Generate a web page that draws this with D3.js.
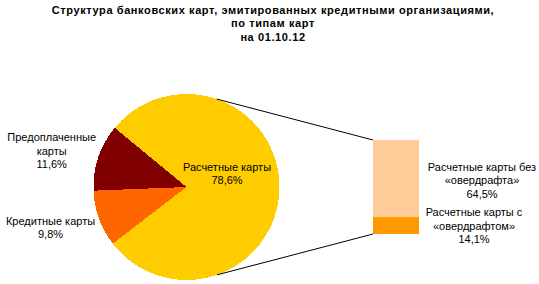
<!DOCTYPE html>
<html>
<head>
<meta charset="utf-8">
<script src="https://cdn.jsdelivr.net/npm/d3@7"></script>
<style>
  html, body { margin: 0; padding: 0; background: #fff; }
  svg { display: block; }
  text { font-family: "Liberation Sans", Arial, sans-serif; fill: #000; }
</style>
</head>
<body>
<svg id="chart" width="539" height="284"></svg>
<script>
// ---- Data ----
const titleLines = ["Структура банковских карт, эмитированных кредитными организациями,", "по типам карт", "на 01.10.12"];
const pieCategories = ["Расчетные карты", "Кредитные карты", "Предоплаченные карты"];
const pieValues = [78.6, 9.8, 11.6];
const pieLabels = [["Расчетные карты", "78,6%"], ["Кредитные карты", "9,8%"], ["Предоплаченные", "карты", "11,6%"]];
const pieColors = ["#FFCC00", "#FF6600", "#800000"];
const barCategories = ["Расчетные карты с «овердрафтом»", "Расчетные карты без «овердрафта»"];
const barValues = [14.1, 64.5];
const barLabels = [["Расчетные карты с", "«овердрафтом»", "14,1%"], ["Расчетные карты без", "«овердрафта»", "64,5%"]];
const barColors = ["#FF9900", "#FFCC99"];

// ---- Layout ----
const svg = d3.select("#chart");
const cx = 186.5, cy = 187, R = 93;
const deg = Math.PI / 180;
const start = 309.5 * deg;
const lineH = 13.5;

// Title
const title = svg.append("text")
  .attr("x", 273).attr("y", 13.5)
  .attr("text-anchor", "middle")
  .style("font-size", "11px").style("font-weight", "bold")
  .style("letter-spacing", "0.6px");
titleLines.forEach((t, i) => {
  title.append("tspan").attr("x", 273).attr("dy", i === 0 ? 0 : lineH).text(t);
});

// Pie
const pie = d3.pie().sort(null).value(d => d).startAngle(start).endAngle(start + 2 * Math.PI);
const arcs = pie(pieValues);
const arc = d3.arc().innerRadius(0).outerRadius(R);
const g = svg.append("g").attr("transform", `translate(${cx},${cy})`);
g.selectAll("path").data(arcs).join("path")
  .attr("d", arc)
  .attr("fill", (d, i) => pieColors[i])
  .attr("shape-rendering", "crispEdges");

// Bar (stack)
const barX0 = 373, barW = 46;
const total = d3.sum(barValues);
const y = d3.scaleLinear().domain([0, total]).range([234, 140]);
const stack = d3.cumsum(barValues);
svg.append("g").selectAll("rect").data(barValues).join("rect")
  .attr("x", barX0)
  .attr("width", barW)
  .attr("y", (d, i) => y(stack[i]))
  .attr("height", (d, i) => y(stack[i] - d) - y(stack[i]))
  .attr("fill", (d, i) => barColors[i])
  .attr("shape-rendering", "crispEdges");

// Connector lines
const topAng = 19 * deg, botAng = 160.8 * deg;
const pt = a => [cx + R * Math.sin(a), cy - R * Math.cos(a)];
const [tx, ty] = pt(topAng), [bx, by] = pt(botAng);
svg.append("line").attr("x1", tx).attr("y1", ty).attr("x2", barX0).attr("y2", y(total))
  .attr("stroke", "#000").attr("stroke-width", 1);
svg.append("line").attr("x1", bx).attr("y1", by).attr("x2", barX0).attr("y2", y(0))
  .attr("stroke", "#000").attr("stroke-width", 1);

// Labels
function multiLabel(x, yBase, lines) {
  const t = svg.append("text").attr("x", x).attr("y", yBase)
    .attr("text-anchor", "middle").style("font-size", "11px");
  lines.forEach((s, i) => t.append("tspan").attr("x", x).attr("dy", i === 0 ? 0 : lineH).text(s));
}
const pieLabelPos = [[227, 170.5], [50.5, 224.7], [51.7, 141]];
pieLabels.forEach((l, i) => multiLabel(pieLabelPos[i][0], pieLabelPos[i][1], l));
const barLabelPos = [[474, 216], [482, 170.5]];
barLabels.forEach((l, i) => multiLabel(barLabelPos[i][0], barLabelPos[i][1], l));
</script>
</body>
</html>
